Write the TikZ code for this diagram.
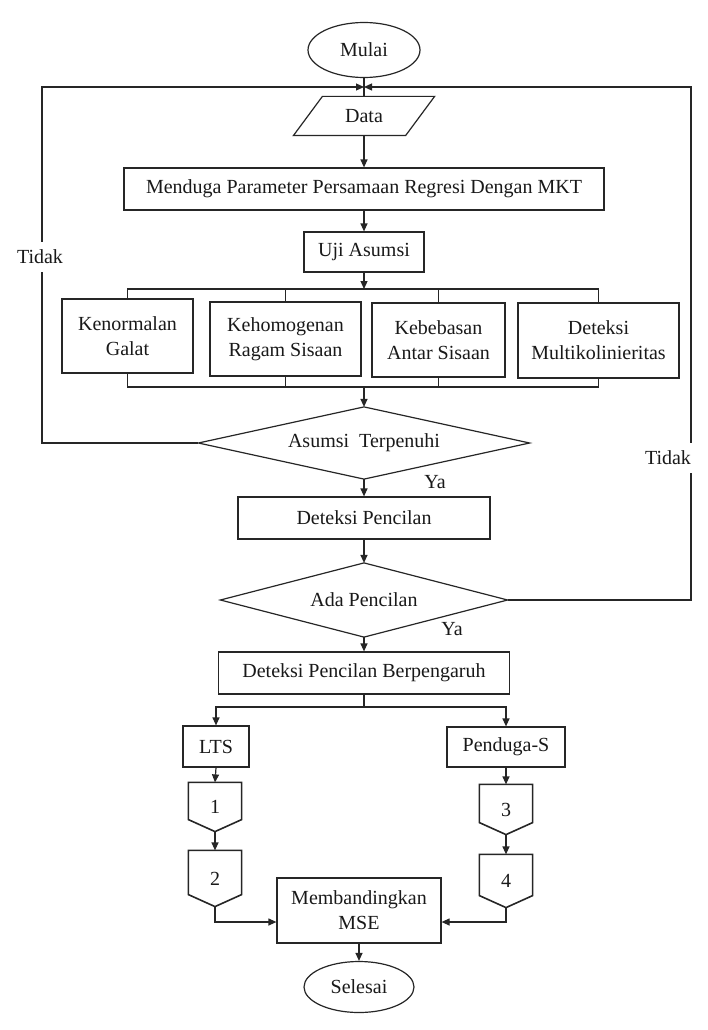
\documentclass[tikz,border=0pt]{standalone}
\usepackage{fontspec}
\setmainfont{Liberation Serif}
\usetikzlibrary{arrows.meta,calc,shapes.geometric}
\begin{document}
\begin{tikzpicture}[x=1pt,y=-1pt,
  line width=1.2pt, draw=black!85,
  every node/.style={font=\fontsize{20}{25}\selectfont, inner sep=0pt, text=black!90},
  box/.style={draw, rectangle, align=center},
  shapebox/.style={rectangle, align=center},
  oval/.style={draw, ellipse},
  arr/.style={-{Triangle[length=8pt,width=7pt]}},
  lbl/.style={fill=white, inner xsep=3pt, inner ysep=8pt},
  pent/.style={line width=1.6pt}]
\useasboundingbox[fill=white] (0,0) rectangle (708,1030);

% nodes
\node[oval, minimum width=112pt, minimum height=55pt] (mulai) at (364,50) {Mulai};
\node[shapebox, minimum width=140pt, minimum height=38pt] (data) at (364,116) {Data};
\draw ([xshift=29pt]data.north west) -- (data.north east) -- ([xshift=-29pt]data.south east) -- (data.south west) -- cycle;
\node[box, minimum width=480pt, minimum height=42pt] (menduga) at (364,189) {Menduga Parameter Persamaan Regresi Dengan MKT};
\node[box, minimum width=120pt, minimum height=40pt] (uji) at (364,252) {Uji Asumsi};

\node[box, minimum width=131pt, minimum height=74pt] (box1) at (127.5,336) {Kenormalan\\Galat};
\node[box, minimum width=151pt, minimum height=74pt] (box2) at (285.5,339) {Kehomogenan\\Ragam Sisaan};
\node[box, minimum width=133pt, minimum height=74pt] (box3) at (438.5,340) {Kebebasan\\Antar Sisaan};
\node[box, minimum width=161pt, minimum height=75pt] (box4) at (598.5,340.5) {Deteksi\\Multikolinieritas};

\coordinate (tb) at (364,289);
\coordinate (bb) at (364,387);

\node[shapebox, minimum width=330pt, minimum height=71pt] (asumsi) at (364,443) {Asumsi~~Terpenuhi};
\draw (asumsi.north) -- (asumsi.east) -- (asumsi.south) -- (asumsi.west) -- cycle;
\node[box, minimum width=252pt, minimum height=42pt] (deteksi) at (364,518) {Deteksi Pencilan};
\node[shapebox, minimum width=286pt, minimum height=73pt] (ada) at (364,600) {Ada Pencilan};
\draw (ada.north) -- (ada.east) -- (ada.south) -- (ada.west) -- cycle;
\node[box, minimum width=291pt, minimum height=42pt] (dpb) at (364,673) {Deteksi Pencilan Berpengaruh};
\coordinate (sp) at (364,707);

\node[box, minimum width=66pt, minimum height=41pt] (lts) at (216,746.5) {LTS};
\node[box, minimum width=118pt, minimum height=40pt] (pen) at (506,747) {Penduga-S};

\node[shapebox, minimum width=52pt, minimum height=48pt] (p1) at (215,807) {1};
\node[shapebox, minimum width=52pt, minimum height=55pt] (p2) at (215,878.5) {2};
\node[shapebox, minimum width=52pt, minimum height=49pt] (p3) at (506,809.5) {3};
\node[shapebox, minimum width=52pt, minimum height=52pt] (p4) at (506,881) {4};
\foreach \p in {p1,p2,p3,p4}{
  \draw[pent] (\p.north west) -- (\p.north east) -- ([yshift=12pt]\p.south east) -- (\p.south) -- ([yshift=12pt]\p.south west) -- cycle;
}

\node[box, minimum width=164pt, minimum height=65pt] (mse) at (359,910.5) {Membandingkan\\MSE};
\node[oval, minimum width=110pt, minimum height=51pt] (selesai) at (359,987) {Selesai};

\coordinate (top) at (364,87);
\coordinate (lc) at (42,87);
\coordinate (rc) at (691,87);

% connectors
\draw (mulai.south) -- (data.north);
\draw[arr] (data.south) -- (menduga.north);
\draw[arr] (menduga.south) -- (uji.north);
\draw[arr] (uji.south) -- (tb);
\draw (box1.north) -- (box1.north |- tb) -- (box4.north |- tb) -- (box4.north);
\draw (box2.north) -- (box2.north |- tb);
\draw (box3.north) -- (box3.north |- tb);
\draw (box1.south) -- (box1.south |- bb) -- (box4.south |- bb) -- (box4.south);
\draw (box2.south) -- (box2.south |- bb);
\draw (box3.south) -- (box3.south |- bb);
\draw[arr] (bb) -- (asumsi.north);
\draw[arr] (asumsi.west) -| (lc) -- (top);
\draw[arr] (ada.east) -| (rc) -- (top);
\draw[arr] (asumsi.south) -- (deteksi.north);
\draw[arr] (deteksi.south) -- (ada.north);
\draw[arr] (ada.south) -- (dpb.north);
\draw (dpb.south) -- (sp);
\draw[arr] (sp) -| (lts.north);
\draw[arr] (sp) -| (pen.north);
\draw[arr] (lts.south) -- (p1.north);
\draw[arr] (p1.south) -- (p2.north);
\draw[arr] (pen.south) -- (p3.north);
\draw[arr] (p3.south) -- (p4.north);
\draw[arr] (p2.south) |- ([yshift=-11.5pt]mse.west);
\draw[arr] (p4.south) |- ([yshift=-11.5pt]mse.east);
\draw[arr] (mse.south) -- (selesai.north);

% labels
\node[lbl] (t1) at (40,257) {Tidak};
\node[lbl] (t2) at (668,458) {Tidak};
\node (ya1) at (435,482) {Ya};
\node (ya2) at (452,629) {Ya};
\end{tikzpicture}
\end{document}
